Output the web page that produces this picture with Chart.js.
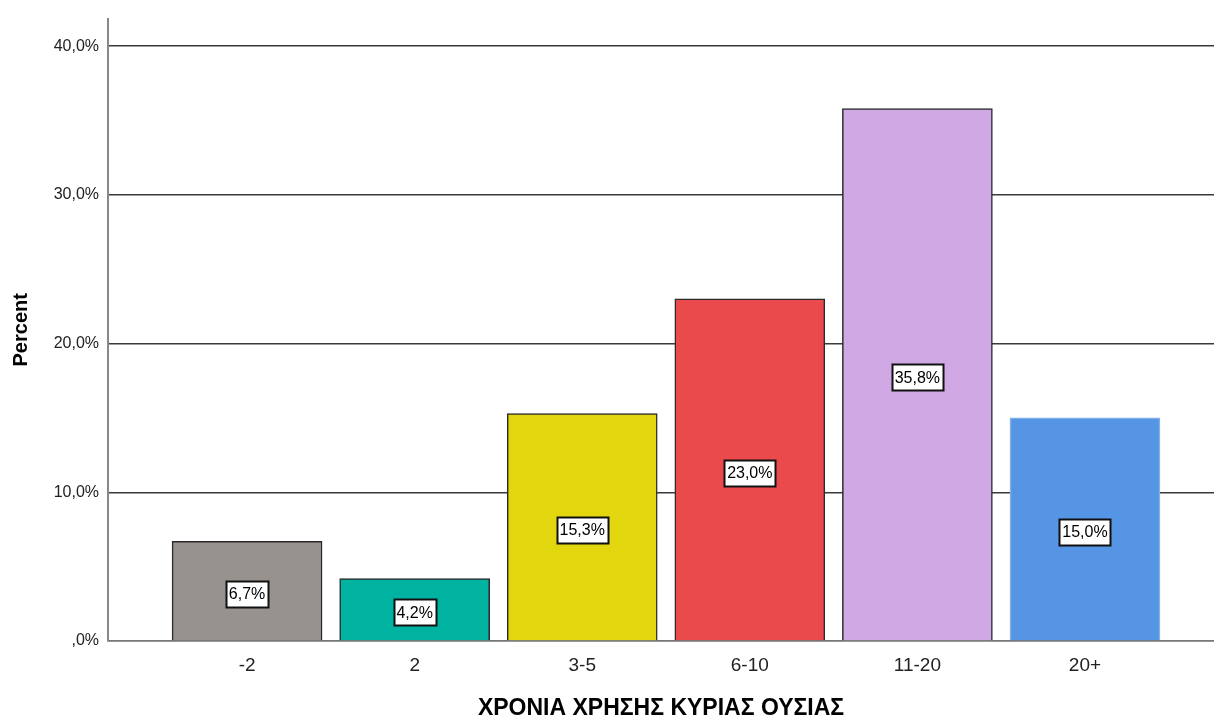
<!DOCTYPE html>
<html>
<head>
<meta charset="utf-8">
<script src="https://cdn.jsdelivr.net/npm/chart.js@4"></script>
<style>
  html, body { margin: 0; padding: 0; background: #fff; }
  #wrap { width: 1214px; height: 722px; position: relative; }
</style>
</head>
<body>
<div id="wrap"><canvas id="yearsChart"></canvas></div>
<script>
// data
const categories = ['-2', '2', '3-5', '6-10', '11-20', '20+'];
const percents = [6.7, 4.2, 15.3, 23.0, 35.8, 15.0];
const yTicks = [0, 10, 20, 30, 40];
const barColors = ['#98928f', '#00b3a0', '#e2d70f', '#ea4a4b', '#d0a9e4', '#5695e4'];
const barBorders = ['#2a2a2a', '#2a2a2a', '#2a2a2a', '#2a2a2a', '#2a2a2a', '#7fb0ea'];

const FONT = "'Liberation Sans', Arial, sans-serif";

function fmtPct(v) {
    const s = v.toFixed(1).replace('.', ',');
    return (s === '0,0' ? ',0' : s) + '%';
}

// white boxed value labels in the middle of each bar
const boxLabels = {
    id: 'boxLabels',
    afterDatasetsDraw(chart) {
        const ctx = chart.ctx;
        const meta = chart.getDatasetMeta(0);
        ctx.save();
        ctx.font = '16px ' + FONT;
        ctx.textAlign = 'center';
        ctx.textBaseline = 'middle';
        meta.data.forEach((bar, i) => {
            const txt = fmtPct(percents[i]);
            const cy = (bar.y + bar.base) / 2 + 3;
            const w = Math.round(ctx.measureText(txt).width + 6);
            const h = 26;
            const x0 = Math.round(bar.x - w / 2) + 0.5;
            const y0 = Math.round(cy - h / 2) + 0.5;
            ctx.fillStyle = '#ffffff';
            ctx.fillRect(x0, y0, w, h);
            ctx.strokeStyle = '#111111';
            ctx.lineWidth = 2;
            ctx.strokeRect(x0, y0, w, h);
            ctx.fillStyle = '#000000';
            ctx.fillText(txt, bar.x, cy + 1);
        });
        ctx.restore();
    }
};

const ctx = document.getElementById('yearsChart').getContext('2d');
new Chart(ctx, {
    type: 'bar',
    data: {
        datasets: [{
            data: percents.map((v, i) => ({ x: i, y: v })),
            backgroundColor: barColors,
            borderColor: barBorders,
            borderWidth: 1.5,
            barThickness: 150
        }]
    },
    options: {
        responsive: true,
        maintainAspectRatio: false,
        animation: false,
        layout: { padding: { top: 11, right: 0, left: 0, bottom: 0 } },
        plugins: {
            legend: { display: false },
            tooltip: { enabled: false }
        },
        scales: {
            x: {
                type: 'linear',
                offset: false,
                min: -0.83,
                max: 5.77,
                afterBuildTicks: (axis) => {
                    axis.ticks = categories.map((c, i) => ({ value: i }));
                },
                ticks: {
                    callback: (v) => categories[v] ?? '',
                    font: { family: FONT, size: 19 },
                    color: '#222',
                    padding: 13,
                    maxRotation: 0,
                    autoSkip: false
                },
                grid: { display: false, drawTicks: false },
                border: { display: true, color: '#777', width: 1.5 },
                title: {
                    display: true,
                    text: 'ΧΡΟΝΙΑ ΧΡΗΣΗΣ ΚΥΡΙΑΣ ΟΥΣΙΑΣ',
                    font: { family: FONT, size: 23, weight: 'bold' },
                    color: '#000',
                    padding: { top: 22, bottom: 0 }
                },
                afterFit: (axis) => { axis.height = 81; }
            },
            y: {
                min: 0,
                max: 41.85,
                afterBuildTicks: (axis) => {
                    axis.ticks = yTicks.map(v => ({ value: v }));
                },
                ticks: {
                    callback: (v) => fmtPct(v),
                    font: { family: FONT, size: 16 },
                    color: '#222',
                    padding: 9
                },
                grid: {
                    drawTicks: false,
                    color: (c) => c.tick && c.tick.value === 0 ? '#777' : '#3a3a3a',
                    lineWidth: 1.5
                },
                border: { display: true, color: '#888', width: 2 },
                title: {
                    display: true,
                    text: 'Percent',
                    font: { family: FONT, size: 20, weight: 'bold' },
                    color: '#000',
                    padding: { top: 9, bottom: 0 }
                },
                afterFit: (axis) => { axis.width = 108; }
            }
        }
    },
    plugins: [boxLabels]
});
</script>
</body>
</html>
